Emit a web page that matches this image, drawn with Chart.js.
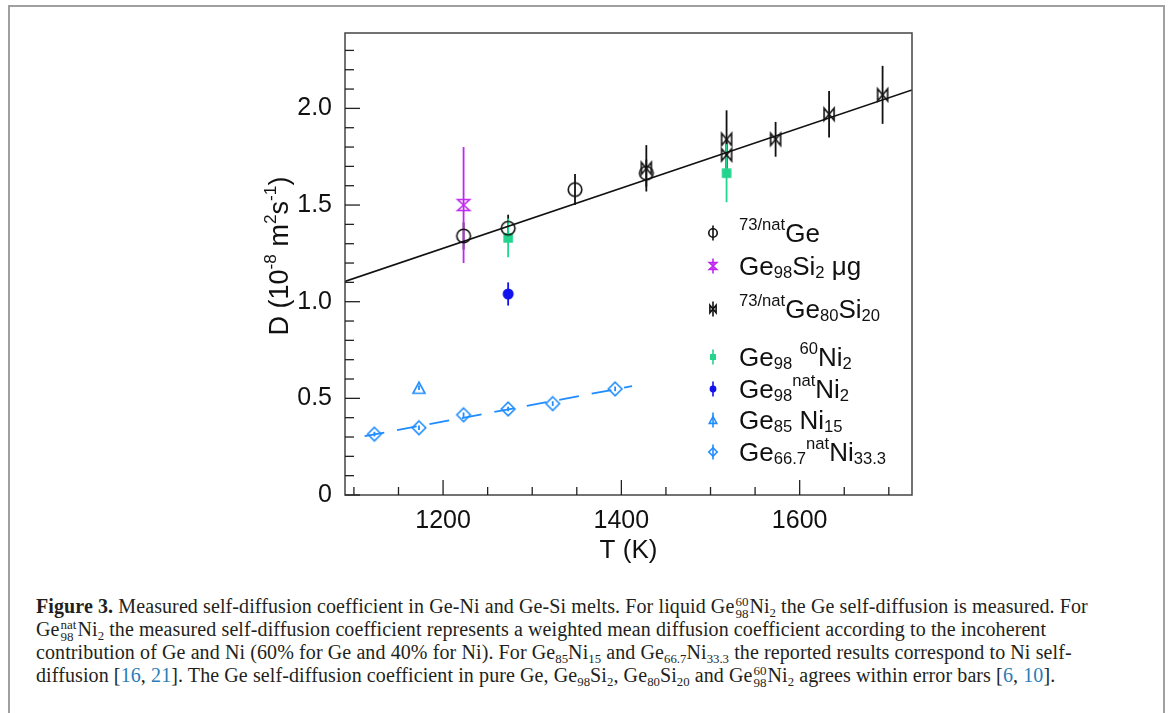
<!DOCTYPE html>
<html><head><meta charset="utf-8">
<script src="https://cdn.jsdelivr.net/npm/chart.js@4.4.1/dist/chart.umd.min.js"></script>
<style>
html,body{margin:0;padding:0;background:#fff;width:1171px;height:713px;overflow:hidden;}
#frame{position:absolute;left:8px;top:5px;width:1157px;height:760px;border:2px solid #a0a0a0;box-sizing:border-box;}
#wrap{position:absolute;left:0;top:0;width:1171px;height:590px;}
#cap{position:absolute;left:36px;top:595px;font-family:"Liberation Serif","Times New Roman",serif;font-size:20px;letter-spacing:0.1px;color:#231f20;white-space:nowrap;}
#cap .ln{height:23px;line-height:23px;}
#cap sub{font-size:0.64em;vertical-align:-0.3em;line-height:0;letter-spacing:0;}
#cap .st{display:inline-flex;flex-direction:column;font-size:13px;line-height:11.5px;vertical-align:7px;margin:0 1px;letter-spacing:0;}
#cap a{color:#2a7db8;text-decoration:none;}
</style>
</head><body>
<div id="frame"></div>
<div id="wrap"><canvas id="c" width="1171" height="590"></canvas></div>
<div id="cap">
<div class="ln"><b>Figure 3.</b> Measured self-diffusion coefficient in Ge-Ni and Ge-Si melts. For liquid Ge<span class="st"><span>60</span><span>98</span></span>Ni<sub>2</sub> the Ge self-diffusion is measured. For</div>
<div class="ln">Ge<span class="st"><span>nat</span><span>98</span></span>Ni<sub>2</sub> the measured self-diffusion coefficient represents a weighted mean diffusion coefficient according to the incoherent</div>
<div class="ln">contribution of Ge and Ni (60% for Ge and 40% for Ni). For Ge<sub>85</sub>Ni<sub>15</sub> and Ge<sub>66.7</sub>Ni<sub>33.3</sub> the reported results correspond to Ni self-</div>
<div class="ln">diffusion [<a>16</a>, <a>21</a>]. The Ge self-diffusion coefficient in pure Ge, Ge<sub>98</sub>Si<sub>2</sub>, Ge<sub>80</sub>Si<sub>20</sub> and Ge<span class="st"><span>60</span><span>98</span></span>Ni<sub>2</sub> agrees within error bars [<a>6</a>, <a>10</a>].</div>
</div>
<script>
// ---------- data ----------
const geT   = [1223, 1273, 1348, 1428];
const geD   = [1.34, 1.38, 1.58, 1.665];
const geErr = [0.07, 0.07, 0.08, 0.07];

const geSi2T   = [1223];
const geSi2D   = [1.50];
const geSi2Err = [0.30];

const geSi20T   = [1428, 1518, 1518, 1573, 1633, 1693];
const geSi20D   = [1.69, 1.84, 1.76, 1.84, 1.97, 2.07];
const geSi20Err = [0.12, 0.15, 0.08, 0.09, 0.12, 0.15];

const ni60T   = [1273, 1518];
const ni60D   = [1.33, 1.665];
const ni60Err = [0.10, 0.15];

const niNatT   = [1273];
const niNatD   = [1.04];
const niNatErr = [0.06];

const ni15T   = [1173];
const ni15D   = [0.555];
const ni15Err = [0.012];

const ni33T   = [1123, 1173, 1223, 1273, 1323, 1393];
const ni33D   = [0.315, 0.348, 0.415, 0.445, 0.473, 0.549];
const ni33Err = [0.012, 0.012, 0.012, 0.012, 0.012, 0.012];

const geFitT = [1090, 1726];
const geFitD = [1.105, 2.095];
const niFitT = [1112, 1412];
const niFitD = [0.304, 0.563];

const xMajorTicks = [1200, 1400, 1600];
const xTickLabels = ['1200', '1400', '1600'];
const xMinorTicks = [1100, 1150, 1250, 1300, 1350, 1450, 1500, 1550, 1650, 1700];
const yMajorTicks = [0, 0.5, 1.0, 1.5, 2.0];
const yTickLabels = ['0', '0.5', '1.0', '1.5', '2.0'];
const yMinorTicks = [0.1,0.2,0.3,0.4,0.6,0.7,0.8,0.9,1.1,1.2,1.3,1.4,1.6,1.7,1.8,1.9,2.1,2.2,2.3];

const xTitle = 'T (K)';
const yTitle = [['D (10',''],['-8','sup'],[' m',''],['2','sup'],['s',''],['-1','sup'],[')','']];

const legendLabels = [
  [['73/nat','sup'],['Ge','']],
  [['Ge',''],['98','sub'],['Si',''],['2','sub'],[' \u03bcg','']],
  [['73/nat','sup'],['Ge',''],['80','sub'],['Si',''],['20','sub']],
  [['Ge',''],['98','sub'],[' ',''],['60','sup'],['Ni',''],['2','sub']],
  [['Ge',''],['98','sub'],['nat','sup'],['Ni',''],['2','sub']],
  [['Ge',''],['85','sub'],[' Ni',''],['15','sub']],
  [['Ge',''],['66.7','sub'],['nat','sup'],['Ni',''],['33.3','sub']]
];

// ---------- styles ----------
const FONT = '"Liberation Sans", Arial, sans-serif';
const C_BLACK = '#111111', C_VIOLET = '#c026f2', C_GREEN = '#22d48c', C_BLUE = '#1212ee', C_LBLUE = '#1e8cff';

function drawMarker(c, kind, x, y, k, color){
  c.save(); c.strokeStyle = color; c.fillStyle = color; c.lineWidth = 1.6; c.lineJoin='miter';
  c.beginPath();
  if (kind === 'circle'){ c.arc(x,y,6.8*k,0,2*Math.PI); c.stroke(); }
  else if (kind === 'dot'){ c.arc(x,y,5.5*k,0,2*Math.PI); c.fill(); }
  else if (kind === 'square'){ c.rect(x-4.8*k,y-4.8*k,9.6*k,9.6*k); c.fill(); }
  else if (kind === 'hourglass'){ const w=6*k,h=5.5*k; c.moveTo(x-w,y-h);c.lineTo(x+w,y-h);c.lineTo(x-w,y+h);c.lineTo(x+w,y+h);c.closePath(); c.stroke(); }
  else if (kind === 'bowtie'){ const w=5*k,h=6*k; c.moveTo(x-w,y-h);c.lineTo(x-w,y+h);c.lineTo(x+w,y-h);c.lineTo(x+w,y+h);c.closePath(); c.stroke(); }
  else if (kind === 'triangle'){ const w=6*k,h=5.5*k; c.moveTo(x,y-h);c.lineTo(x+w,y+h);c.lineTo(x-w,y+h);c.closePath(); c.stroke(); }
  else if (kind === 'diamond'){ const r=6.8*k; c.moveTo(x,y-r);c.lineTo(x+r,y);c.lineTo(x,y+r);c.lineTo(x-r,y);c.closePath(); c.stroke(); }
  c.restore();
}
function markerCanvas(kind, color){
  const cv = document.createElement('canvas'); cv.width = 22; cv.height = 22;
  drawMarker(cv.getContext('2d'), kind, 11, 11, 1, color); return cv;
}
function pts(xs, ys){ return xs.map((v,i)=>({x:v, y:ys[i]})); }

function drawRich(c, segs, x, y, size, measureOnly){
  let cx = x;
  for (const [t, m] of segs){
    const s = m ? size*0.64 : size;
    const dy = m === 'sup' ? -size*0.45 : (m === 'sub' ? size*0.13 : 0);
    c.font = s + 'px ' + FONT;
    if (!measureOnly) c.fillText(t, cx, y + dy);
    cx += c.measureText(t).width;
  }
  return cx - x;
}

const errorBars = {
  id:'errorBars',
  beforeDatasetsDraw(chart){
    const {ctx, chartArea:a, scales:{x, y}} = chart;
    ctx.save(); ctx.beginPath(); ctx.rect(a.left, a.top, a.right-a.left, a.bottom-a.top); ctx.clip();
    chart.data.datasets.forEach(ds => {
      if (!ds.errors) return;
      ctx.strokeStyle = ds.errColor; ctx.lineWidth = 1.8;
      ds.data.forEach((p, i) => {
        const e = ds.errors[i], px = x.getPixelForValue(p.x);
        ctx.beginPath(); ctx.moveTo(px, y.getPixelForValue(p.y - e)); ctx.lineTo(px, y.getPixelForValue(p.y + e)); ctx.stroke();
      });
    });
    ctx.restore();
  }
};

const legendKinds = [['circle',C_BLACK],['hourglass',C_VIOLET],['bowtie',C_BLACK],['square',C_GREEN],['dot',C_BLUE],['triangle',C_LBLUE],['diamond',C_LBLUE]];
const legendRowsY = [233, 266, 309, 357, 389, 420, 452];

const decor = {
  id:'decor',
  afterDraw(chart){
    const {ctx, chartArea:a, scales:{x, y}} = chart;
    ctx.save();
    ctx.strokeStyle = '#444'; ctx.lineWidth = 1.5;
    ctx.strokeRect(a.left, a.top, a.right-a.left, a.bottom-a.top);
    ctx.strokeStyle = '#222'; ctx.lineWidth = 1.3;
    const L = (x1,y1,x2,y2)=>{ctx.beginPath();ctx.moveTo(x1,y1);ctx.lineTo(x2,y2);ctx.stroke();};
    yMajorTicks.forEach(v=>{const p=y.getPixelForValue(v); L(a.left,p,a.left+15,p);});
    yMinorTicks.forEach(v=>{const p=y.getPixelForValue(v); L(a.left,p,a.left+9,p);});
    xMajorTicks.forEach(v=>{const p=x.getPixelForValue(v); L(p,a.bottom,p,a.bottom-15);});
    xMinorTicks.forEach(v=>{const p=x.getPixelForValue(v); L(p,a.bottom,p,a.bottom-8);});
    // y title
    ctx.fillStyle = '#111'; ctx.textBaseline = 'alphabetic'; ctx.textAlign = 'left';
    const w = drawRich(ctx, yTitle, 0, 0, 27, true);
    ctx.save(); ctx.translate(288, 256); ctx.rotate(-Math.PI/2);
    drawRich(ctx, yTitle, -w/2, 0, 27, false);
    ctx.restore();
    // legend
    legendLabels.forEach((segs, i) => {
      const ly = legendRowsY[i], lx = 713;
      const [kind, col] = legendKinds[i];
      ctx.strokeStyle = col; ctx.lineWidth = 1.6;
      L(lx, ly-7.5, lx, ly+7.5);
      drawMarker(ctx, kind, lx, ly, 0.62, col);
      ctx.fillStyle = '#111';
      drawRich(ctx, segs, 739, ly + 8.5, 26, false);
    });
    ctx.restore();
  }
};

const datasets = [
  {label:'fitGe', type:'line', data:pts(geFitT, geFitD), borderColor:'#111', borderWidth:1.6, pointRadius:0, order:10},
  {label:'fitNi', type:'line', data:pts(niFitT, niFitD), borderColor:C_LBLUE, borderWidth:1.8, borderDash:[20,13], pointRadius:0, order:10},
  {label:'Ge', data:pts(geT, geD), errors:geErr, errColor:C_BLACK, pointStyle:markerCanvas('circle',C_BLACK)},
  {label:'Ge98Si2', data:pts(geSi2T, geSi2D), errors:geSi2Err, errColor:C_VIOLET, pointStyle:markerCanvas('hourglass',C_VIOLET)},
  {label:'Ge80Si20', data:pts(geSi20T, geSi20D), errors:geSi20Err, errColor:C_BLACK, pointStyle:markerCanvas('bowtie',C_BLACK)},
  {label:'Ge98 60Ni2', data:pts(ni60T, ni60D), errors:ni60Err, errColor:C_GREEN, pointStyle:markerCanvas('square',C_GREEN)},
  {label:'Ge98 natNi2', data:pts(niNatT, niNatD), errors:niNatErr, errColor:C_BLUE, pointStyle:markerCanvas('dot',C_BLUE)},
  {label:'Ge85Ni15', data:pts(ni15T, ni15D), errors:ni15Err, errColor:C_LBLUE, pointStyle:markerCanvas('triangle',C_LBLUE)},
  {label:'Ge66.7Ni33.3', data:pts(ni33T, ni33D), errors:ni33Err, errColor:C_LBLUE, pointStyle:markerCanvas('diamond',C_LBLUE)}
];
datasets.forEach(d => { if (d.type !== 'line'){ d.type = 'scatter'; d.pointRadius = 8; d.order = 0; } });

new Chart(document.getElementById('c'), {
  type:'scatter',
  data:{datasets},
  options:{
    responsive:false, animation:false, devicePixelRatio:1,
    layout:{padding:{left:0, right:259, top:33, bottom:0}},
    plugins:{legend:{display:false}, tooltip:{enabled:false}},
    scales:{
      x:{type:'linear', min:1090, max:1726,
        grid:{display:false, drawTicks:false}, border:{display:false},
        afterBuildTicks:s=>{ s.ticks = xMajorTicks.map(v=>({value:v})); },
        ticks:{font:{family:FONT, size:25}, color:'#111', padding:11, maxRotation:0, autoSkip:false,
          callback:(v,i)=>xTickLabels[i]},
        title:{display:true, text:xTitle, font:{family:FONT, size:26}, color:'#111', padding:{top:0,bottom:24}},
        afterFit:s=>{ s.height = 95; }
      },
      y:{type:'linear', min:0, max:2.39,
        grid:{display:false, drawTicks:false}, border:{display:false},
        afterBuildTicks:s=>{ s.ticks = yMajorTicks.map(v=>({value:v})); },
        ticks:{font:{family:FONT, size:25}, color:'#111', padding:13, autoSkip:false,
          callback:(v,i)=>yTickLabels[i]},
        afterFit:s=>{ s.width = 345; }
      }
    }
  },
  plugins:[errorBars, decor]
});
</script>
</body></html>
